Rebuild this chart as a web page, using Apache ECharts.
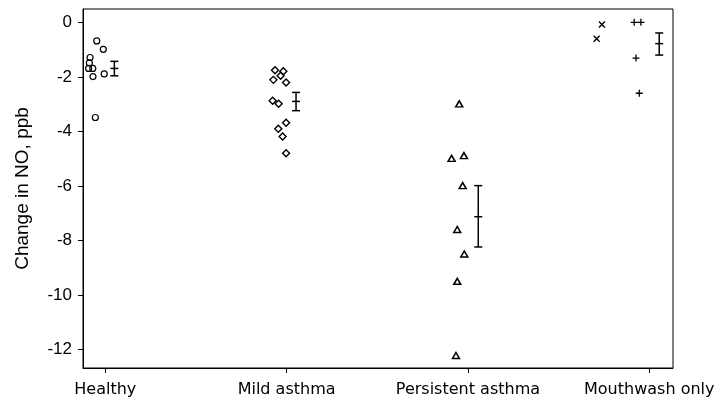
<!DOCTYPE html>
<html>
<head>
<meta charset="utf-8">
<script src="https://cdn.jsdelivr.net/npm/echarts@6/dist/echarts.min.js"></script>
<style>html,body{margin:0;padding:0;background:#fff}#c{width:714px;height:405px}</style>
</head>
<body>
<div id="c"></div>
<script>
const categories = ['Healthy', 'Mild asthma', 'Persistent asthma', 'Mouthwash only'];
const categoryPos = [1, 2, 3, 4];
const yTicks = [-12, -10, -8, -6, -4, -2, 0];

const healthyX = [0.953, 0.989, 0.916, 0.912, 0.908, 0.931, 0.932, 0.994, 0.945];
const healthyY = [-0.68, -0.99, -1.29, -1.49, -1.69, -1.69, -1.99, -1.89, -3.49];

const mildX = [1.936, 1.982, 1.927, 1.967, 1.997, 1.923, 1.956, 1.997, 1.954, 1.978, 1.997];
const mildY = [-1.76, -1.79, -2.11, -1.96, -2.21, -2.88, -2.99, -3.68, -3.90, -4.19, -4.80];

const persistentX = [2.952, 2.910, 2.978, 2.971, 2.941, 2.980, 2.941, 2.934];
const persistentY = [-2.99, -4.99, -4.89, -5.99, -7.60, -8.50, -9.50, -12.22];

const mouthCrossX = [3.739, 3.710];
const mouthCrossY = [-0.08, -0.60];
const mouthPlusX = [3.917, 3.954, 3.927, 3.945];
const mouthPlusY = [0.0, 0.0, -1.31, -2.60];

const errX = [1.050, 2.052, 3.057, 4.055];
const errLow = [-1.96, -3.24, -8.24, -1.20];
const errMean = [-1.69, -2.90, -7.13, -0.78];
const errHigh = [-1.43, -2.57, -5.99, -0.39];

const zip = (xs, ys) => xs.map((x, i) => [x, ys[i]]);
const errData = errX.map((x, i) => [x, errLow[i], errMean[i], errHigh[i]]);

const plusPath = 'path://M0,5L10,5M5,0L5,10';
const crossPath = 'path://M0,0L10,10M10,0L0,10';

function scatter(data, symbol, size, bw) {
  return {
    type: 'scatter', data: data, symbol: symbol, symbolSize: size,
    itemStyle: { color: 'rgba(0,0,0,0)', borderColor: '#000', borderWidth: bw, opacity: 1 },
    emphasis: { disabled: true }, silent: true, z: 3
  };
}

const chart = echarts.init(document.getElementById('c'), null, { renderer: 'canvas' });
chart.setOption({
  animation: false,
  backgroundColor: '#fff',
  grid: { left: 83, right: 41, top: 9, bottom: 37, show: true, borderColor: '#000', borderWidth: 1, backgroundColor: 'transparent', containLabel: false, outerBoundsMode: 'none' },
  xAxis: {
    type: 'value', min: 0.877, max: 4.131,
    axisLine: { show: true, onZero: false, lineStyle: { color: '#000', width: 1 } },
    axisTick: { show: true, customValues: categoryPos, length: 5, lineStyle: { color: '#000' } },
    axisLabel: {
      customValues: categoryPos, margin: 14,
      formatter: v => categories[Math.round(v) - 1],
      fontFamily: 'DejaVu Sans', fontSize: 16, color: '#000'
    },
    splitLine: { show: false }
  },
  yAxis: {
    type: 'value', min: -12.68, max: 0.49,
    name: 'Change in NO, ppb', nameLocation: 'middle', nameGap: 51,
    nameTextStyle: { fontFamily: 'Liberation Sans', fontSize: 19, color: '#000' },
    axisLine: { show: true, onZero: false, lineStyle: { color: '#000', width: 1 } },
    axisTick: { show: true, customValues: yTicks, length: 5, lineStyle: { color: '#000' } },
    axisLabel: {
      customValues: yTicks, margin: 11,
      formatter: v => String(Math.round(v)),
      fontFamily: 'Liberation Sans', fontSize: 17, color: '#000'
    },
    splitLine: { show: false }
  },
  series: [
    scatter(zip(healthyX, healthyY), 'circle', 6, 1.2),
    scatter(zip(mildX, mildY), 'diamond', 7, 1.4),
    scatter(zip(persistentX, persistentY), 'triangle', [7, 6], 1.5),
    scatter(zip(mouthCrossX, mouthCrossY), crossPath, 6, 1.4),
    scatter(zip(mouthPlusX, mouthPlusY), plusPath, 7, 1.3),
    {
      type: 'custom', data: errData, silent: true, z: 4,
      renderItem: function (params, api) {
        const x = api.value(0);
        const lo = api.coord([x, api.value(1)]);
        const mid = api.coord([x, api.value(2)]);
        const hi = api.coord([x, api.value(3)]);
        const w = 4;
        const st = { stroke: '#000', lineWidth: 1.5 };
        return {
          type: 'group',
          children: [
            { type: 'line', shape: { x1: hi[0], y1: hi[1], x2: lo[0], y2: lo[1] }, style: st },
            { type: 'line', shape: { x1: hi[0] - w, y1: hi[1], x2: hi[0] + w, y2: hi[1] }, style: st },
            { type: 'line', shape: { x1: lo[0] - w, y1: lo[1], x2: lo[0] + w, y2: lo[1] }, style: st },
            { type: 'line', shape: { x1: mid[0] - w, y1: mid[1], x2: mid[0] + w, y2: mid[1] }, style: st }
          ]
        };
      }
    }
  ]
});
</script>
</body>
</html>
